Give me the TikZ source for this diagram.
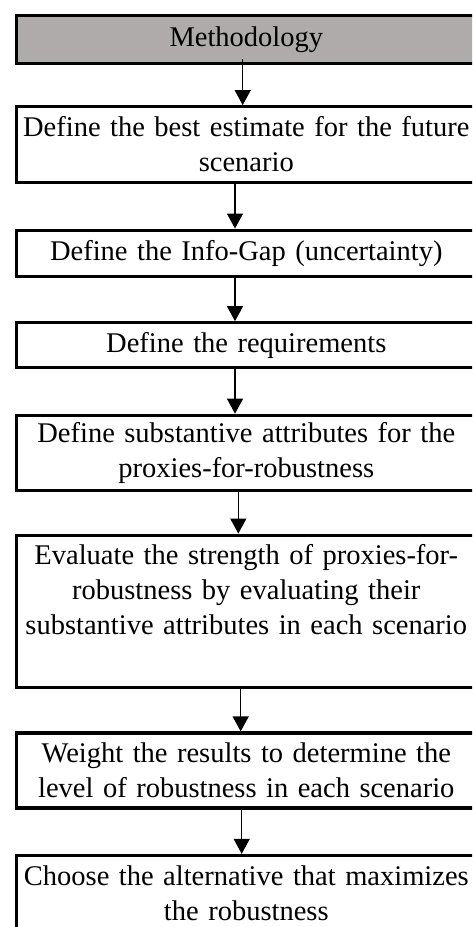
\documentclass[tikz,border=0pt]{standalone}
\usepackage{fontspec}
\setmainfont{Liberation Serif}
\usetikzlibrary{arrows.meta}
\definecolor{headgray}{RGB}{174,171,170}
\begin{document}
\begin{tikzpicture}[x=1pt,y=-1pt,>={Triangle[width=16pt,length=15pt]},
  box/.style={draw,line width=3.3pt,minimum width=459.4pt,text width=450pt,
    align=center,inner sep=0pt,font=\fontsize{28.5}{35}\selectfont}]
\clip (0,0) rectangle (472,927);
\node[box,fill=headgray,minimum height=47.6pt] (head) at (246.3,39.5) {Methodology};
\node[box,minimum height=75.5pt] (best) at (246.3,144.5) {Define the best estimate for the future\\scenario};
\node[box,minimum height=46pt] (gap) at (246.3,253.2) {Define the Info-Gap (uncertainty)};
\node[box,minimum height=45pt] (req) at (246.3,345.3) {Define the requirements};
\node[box,minimum height=75.2pt] (attr) at (246.3,452.9) {Define substantive attributes for the\\proxies-for-robustness};
\node[box,minimum height=152pt] (eval) at (246.3,611.2) {Evaluate the strength of proxies-for-\\robustness by evaluating their\\\makebox[450pt][c]{substantive attributes in each scenario}\\[8pt]\mbox{}};
\node[box,minimum height=75pt] (weight) at (246.3,770.5) {Weight the results to determine the\\level of robustness in each scenario};
\node[box,minimum height=75pt] (choose) at (246.3,893) {Choose the alternative that maximizes\\the robustness};
\draw[->,line width=1.3pt] ([xshift=-3.6pt,yshift=6pt]head.south) -- ([xshift=-3.6pt]best.north);
\draw[->,line width=1.3pt] ([xshift=-11.3pt]best.south) -- ([xshift=-11.3pt]gap.north);
\draw[->,line width=1.3pt] ([xshift=-11.3pt]gap.south) -- ([xshift=-11.3pt]req.north);
\draw[->,line width=1.3pt] ([xshift=-11.3pt]req.south) -- ([xshift=-11.3pt]attr.north);
\draw[->,line width=1.3pt] ([xshift=-8pt]attr.south) -- ([xshift=-8pt]eval.north);
\draw[->,line width=1.3pt] ([xshift=-5.6pt]eval.south) -- ([xshift=-5.6pt]weight.north);
\draw[->,line width=1.3pt] ([xshift=-4.6pt]weight.south) -- ([xshift=-4.6pt]choose.north);
\end{tikzpicture}
\end{document}
